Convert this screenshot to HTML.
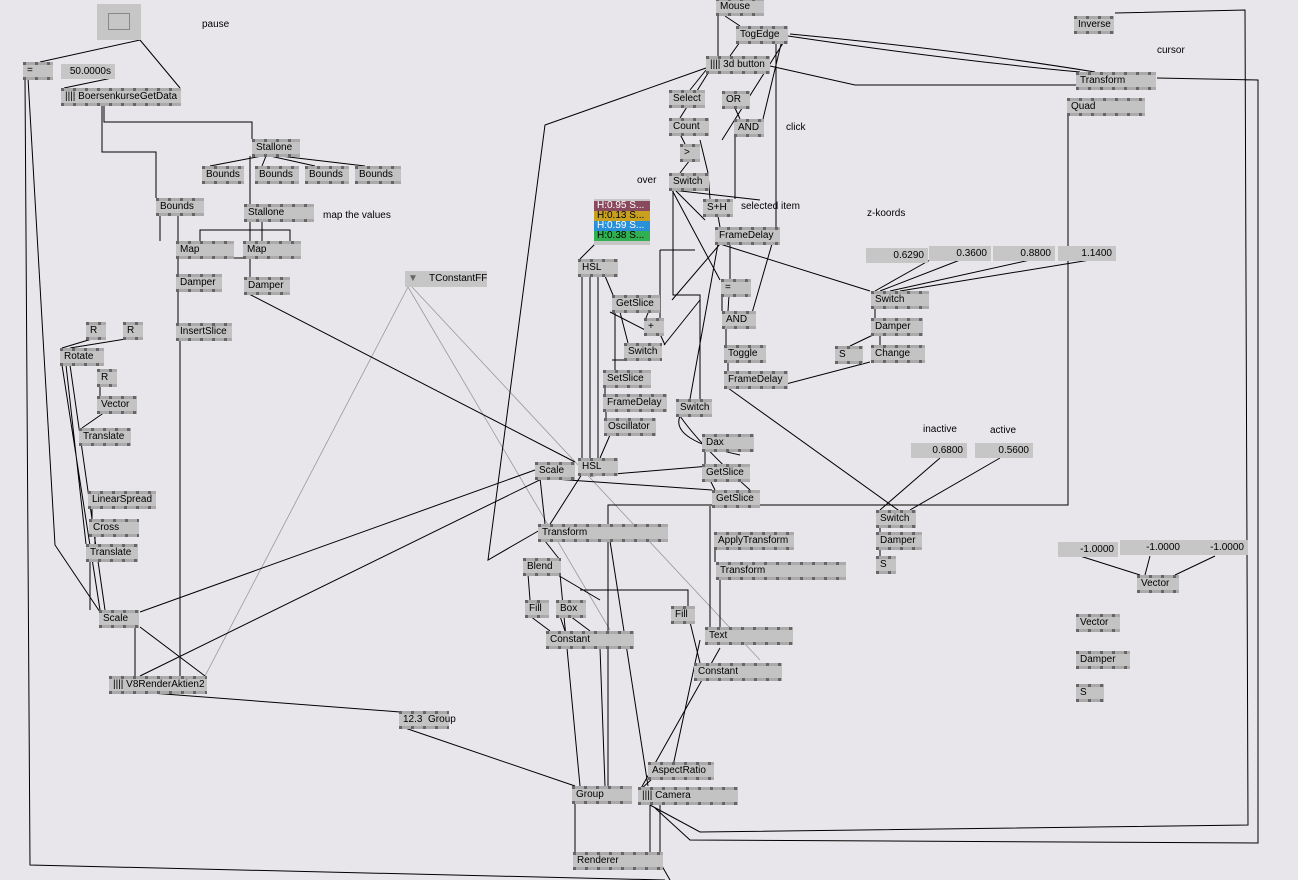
<!DOCTYPE html>
<html><head><meta charset="utf-8"><style>
body{margin:0;width:1298px;height:880px;background:#e8e6ea;position:relative;overflow:hidden;font-family:"Liberation Sans",sans-serif;font-size:10px;color:#000}
.n{position:absolute;height:18px;background:#c3c3c3;box-sizing:border-box}
.n:before,.n:after{content:"";position:absolute;left:0;right:0;height:3px;background:repeating-linear-gradient(90deg,#666 0 3px,#aaa 3px 12px)}
.n:before{top:0}.n:after{bottom:0}
.n span{position:absolute;left:4px;top:3px;line-height:12px;white-space:nowrap}
.io{position:absolute;height:15px;background:#c6c6c6;text-align:right;padding-right:4px;box-sizing:border-box;line-height:15px}
.l{position:absolute;white-space:nowrap}
svg{position:absolute;left:0;top:0}
</style></head><body>
<svg width="1298" height="880" fill="none" stroke="#000" stroke-width="1">
<g stroke="#999" stroke-width="0.8">
<path d="M408 287L205 676M408 287L610 630M412 287L760 660"/>
</g>
<path d="M140 40L40 62M140 40L180 88M112 78L64 88"/>
<path d="M25 78L30 865L665 880M28 78L55 545L100 612"/>
<path d="M102 104V152H156V198M104 104V122H252V139"/>
<path d="M262 156L210 166M266 156L262 166M270 156L315 166M280 156L365 166M250 156L250 204"/>
<path d="M160 214V241M178 214V274M186 258H245M200 241V230H290V241M262 221V241M250 221V277M178 290V323M180 340V676M247 293L575 462"/>
<path d="M95 338L62 348M132 338L70 348M100 385V396M105 412L82 428M62 365L100 610M66 365L86 544M70 365L105 610"/>
<path d="M92 507V519M95 535V544M90 560V610"/>
<path d="M140 612L535 470M140 627L205 676M135 627V676M140 676L560 470M138 692L400 712M405 728L575 786"/>
<path d="M706 68L545 125L488 560L540 530"/>
<path d="M788 36Q950 60 1080 72M790 34Q960 50 1095 72M770 66L855 85H1076M725 16L740 26M718 16V56M740 42L730 56M785 40L722 140M782 40L763 119M776 40L776 230L750 320"/>
<path d="M1115 13L1245 10L1248 825L700 832L650 805M1157 78L1258 80L1258 843L690 840L655 808"/>
<path d="M1068 115V505H608V790"/>
<path d="M706 70L690 90M710 70L680 118M735 108L740 119M680 134L685 144M690 160L680 173M700 140L708 173L710 199M735 136V199M672 190L760 200M675 190L705 220M672 190L720 280M718 216L720 227M730 244V280L728 311M720 244L672 300M718 244L690 399M720 244L870 291M722 296V311M726 328V345M728 362V371M728 388L905 515M786 384L870 362"/>
<path d="M673 190V295H700V400M680 416Q670 440 740 455M680 416Q700 445 750 490M705 450V464M710 480L715 490M710 506V627M715 548V562M720 578V627M700 640L670 780"/>
<path d="M596 243L580 259M582 276V458M590 276V458M598 276V458M605 276L613 295M615 312V370M620 312L628 343M655 335L610 312M640 360H612M605 386V394M606 410V418M610 435L600 458M582 474L540 540"/>
<path d="M660 250V320M660 250H695M655 295L646 318M660 334L665 345M700 300L664 345"/>
<path d="M540 478L545 524M545 541L560 560M560 574L580 786M556 574L600 600M528 574L530 600M530 616L550 631M560 616L565 631M570 616L590 631M580 590H688V606M540 478L712 490M590 476L710 466"/>
<path d="M600 648L605 786M610 541L648 786M690 622L700 663M720 648L640 790"/>
<path d="M653 778L640 790M575 804V852M650 804V852M660 804V852M662 866L670 880"/>
<path d="M930 260L875 291M960 260L880 291M1030 260L890 291M1090 260L900 291M875 308V318M875 334L850 346M880 334V345"/>
<path d="M940 458L880 510M1000 458L910 510M880 526V532M880 548V556"/>
<path d="M1080 556L1140 575M1150 556L1145 575M1215 556L1175 575"/>
</svg>
<div style="position:absolute;left:97px;top:4px;width:44px;height:36px;background:#c6c6c6"><div style="position:absolute;left:11px;top:9px;width:20px;height:15px;border:1px solid #888"></div></div>
<div class="l" style="left:202px;top:19px">pause</div>
<div class="l" style="left:1157px;top:45px">cursor</div>
<div class="l" style="left:786px;top:122px">click</div>
<div class="l" style="left:637px;top:175px">over</div>
<div class="l" style="left:741px;top:201px">selected item</div>
<div class="l" style="left:867px;top:208px">z-koords</div>
<div class="l" style="left:323px;top:210px">map the values</div>
<div class="l" style="left:923px;top:424px">inactive</div>
<div class="l" style="left:990px;top:425px">active</div>
<div class="l" style="left:429px;top:273px">TConstantFF</div>
<div style="position:absolute;left:405px;top:271px;width:82px;height:16px;background:#c6c6c6"></div>
<div class="l" style="left:408px;top:273px;color:#666">▼&nbsp;&nbsp;&nbsp;&nbsp;<span style="color:#000">TConstantFF</span></div>
<div style="position:absolute;left:594px;top:199px;width:56px;height:46px;background:#c6c6c6;font-size:10px;line-height:10px;color:#fff">
<div style="margin-top:2px;background:#8a4a5e;padding-left:3px">H:0.95 S...</div>
<div style="background:#c8a020;padding-left:3px;color:#000">H:0.13 S...</div>
<div style="background:#2a90d8;padding-left:3px">H:0.59 S...</div>
<div style="background:#30b050;padding-left:3px;color:#000">H:0.38 S...</div></div>
<div class="io" style="left:61px;top:64px;width:54px">50.0000s</div>
<div class="io" style="left:866px;top:248px;width:62px">0.6290</div>
<div class="io" style="left:929px;top:246px;width:62px">0.3600</div>
<div class="io" style="left:993px;top:246px;width:62px">0.8800</div>
<div class="io" style="left:1058px;top:246px;width:58px">1.1400</div>
<div class="io" style="left:911px;top:443px;width:56px">0.6800</div>
<div class="io" style="left:975px;top:443px;width:58px">0.5600</div>
<div class="io" style="left:1058px;top:542px;width:60px">-1.0000</div>
<div class="io" style="left:1120px;top:540px;width:64px">-1.0000</div>
<div class="io" style="left:1184px;top:540px;width:64px">-1.0000</div>
<div class="n" style="left:716px;top:-2px;width:48px"><span>Mouse</span></div>
<div class="n" style="left:736px;top:26px;width:52px"><span>TogEdge</span></div>
<div class="n" style="left:706px;top:56px;width:64px"><span>|||| 3d button</span></div>
<div class="n" style="left:669px;top:90px;width:36px"><span>Select</span></div>
<div class="n" style="left:722px;top:91px;width:28px"><span>OR</span></div>
<div class="n" style="left:669px;top:118px;width:40px"><span>Count</span></div>
<div class="n" style="left:734px;top:119px;width:30px"><span>AND</span></div>
<div class="n" style="left:680px;top:144px;width:20px"><span>&gt;</span></div>
<div class="n" style="left:669px;top:173px;width:40px"><span>Switch</span></div>
<div class="n" style="left:703px;top:199px;width:30px"><span>S+H</span></div>
<div class="n" style="left:715px;top:227px;width:65px"><span>FrameDelay</span></div>
<div class="n" style="left:721px;top:279px;width:30px"><span>=</span></div>
<div class="n" style="left:722px;top:311px;width:34px"><span>AND</span></div>
<div class="n" style="left:724px;top:345px;width:42px"><span>Toggle</span></div>
<div class="n" style="left:724px;top:371px;width:64px"><span>FrameDelay</span></div>
<div class="n" style="left:676px;top:399px;width:36px"><span>Switch</span></div>
<div class="n" style="left:702px;top:434px;width:52px"><span>Dax</span></div>
<div class="n" style="left:702px;top:464px;width:48px"><span>GetSlice</span></div>
<div class="n" style="left:712px;top:490px;width:48px"><span>GetSlice</span></div>
<div class="n" style="left:714px;top:532px;width:80px"><span>ApplyTransform</span></div>
<div class="n" style="left:716px;top:562px;width:130px"><span>Transform</span></div>
<div class="n" style="left:705px;top:627px;width:88px"><span>Text</span></div>
<div class="n" style="left:694px;top:663px;width:88px"><span>Constant</span></div>
<div class="n" style="left:671px;top:606px;width:24px"><span>Fill</span></div>
<div class="n" style="left:578px;top:259px;width:40px"><span>HSL</span></div>
<div class="n" style="left:612px;top:295px;width:48px"><span>GetSlice</span></div>
<div class="n" style="left:644px;top:318px;width:20px"><span>+</span></div>
<div class="n" style="left:624px;top:343px;width:38px"><span>Switch</span></div>
<div class="n" style="left:603px;top:370px;width:48px"><span>SetSlice</span></div>
<div class="n" style="left:603px;top:394px;width:64px"><span>FrameDelay</span></div>
<div class="n" style="left:604px;top:418px;width:52px"><span>Oscillator</span></div>
<div class="n" style="left:578px;top:458px;width:40px"><span>HSL</span></div>
<div class="n" style="left:535px;top:462px;width:40px"><span>Scale</span></div>
<div class="n" style="left:538px;top:524px;width:130px"><span>Transform</span></div>
<div class="n" style="left:523px;top:558px;width:38px"><span>Blend</span></div>
<div class="n" style="left:525px;top:600px;width:24px"><span>Fill</span></div>
<div class="n" style="left:556px;top:600px;width:30px"><span>Box</span></div>
<div class="n" style="left:546px;top:631px;width:88px"><span>Constant</span></div>
<div class="n" style="left:572px;top:786px;width:60px"><span>Group</span></div>
<div class="n" style="left:648px;top:762px;width:66px"><span>AspectRatio</span></div>
<div class="n" style="left:638px;top:787px;width:100px"><span>|||| Camera</span></div>
<div class="n" style="left:573px;top:852px;width:90px"><span>Renderer</span></div>
<div class="n" style="left:252px;top:139px;width:48px"><span>Stallone</span></div>
<div class="n" style="left:202px;top:166px;width:42px"><span>Bounds</span></div>
<div class="n" style="left:255px;top:166px;width:44px"><span>Bounds</span></div>
<div class="n" style="left:305px;top:166px;width:44px"><span>Bounds</span></div>
<div class="n" style="left:355px;top:166px;width:46px"><span>Bounds</span></div>
<div class="n" style="left:156px;top:198px;width:48px"><span>Bounds</span></div>
<div class="n" style="left:244px;top:204px;width:70px"><span>Stallone</span></div>
<div class="n" style="left:176px;top:241px;width:58px"><span>Map</span></div>
<div class="n" style="left:243px;top:241px;width:58px"><span>Map</span></div>
<div class="n" style="left:176px;top:274px;width:46px"><span>Damper</span></div>
<div class="n" style="left:244px;top:277px;width:46px"><span>Damper</span></div>
<div class="n" style="left:176px;top:323px;width:56px"><span>InsertSlice</span></div>
<div class="n" style="left:86px;top:322px;width:20px"><span>R</span></div>
<div class="n" style="left:123px;top:322px;width:20px"><span>R</span></div>
<div class="n" style="left:60px;top:348px;width:44px"><span>Rotate</span></div>
<div class="n" style="left:97px;top:369px;width:20px"><span>R</span></div>
<div class="n" style="left:97px;top:396px;width:40px"><span>Vector</span></div>
<div class="n" style="left:79px;top:428px;width:52px"><span>Translate</span></div>
<div class="n" style="left:88px;top:491px;width:68px"><span>LinearSpread</span></div>
<div class="n" style="left:89px;top:519px;width:50px"><span>Cross</span></div>
<div class="n" style="left:86px;top:544px;width:52px"><span>Translate</span></div>
<div class="n" style="left:99px;top:610px;width:40px"><span>Scale</span></div>
<div class="n" style="left:109px;top:676px;width:98px"><span>|||| V8RenderAktien2</span></div>
<div class="n" style="left:399px;top:711px;width:50px"><span>12.3&nbsp; Group</span></div>
<div class="n" style="left:23px;top:62px;width:30px"><span>=</span></div>
<div class="n" style="left:61px;top:88px;width:120px"><span>|||| BoersenkurseGetData</span></div>
<div class="n" style="left:1074px;top:16px;width:40px"><span>Inverse</span></div>
<div class="n" style="left:1076px;top:72px;width:80px"><span>Transform</span></div>
<div class="n" style="left:1067px;top:98px;width:78px"><span>Quad</span></div>
<div class="n" style="left:871px;top:291px;width:58px"><span>Switch</span></div>
<div class="n" style="left:871px;top:318px;width:52px"><span>Damper</span></div>
<div class="n" style="left:835px;top:346px;width:28px"><span>S</span></div>
<div class="n" style="left:871px;top:345px;width:54px"><span>Change</span></div>
<div class="n" style="left:876px;top:510px;width:40px"><span>Switch</span></div>
<div class="n" style="left:876px;top:532px;width:46px"><span>Damper</span></div>
<div class="n" style="left:876px;top:556px;width:20px"><span>S</span></div>
<div class="n" style="left:1137px;top:575px;width:42px"><span>Vector</span></div>
<div class="n" style="left:1076px;top:614px;width:44px"><span>Vector</span></div>
<div class="n" style="left:1076px;top:651px;width:54px"><span>Damper</span></div>
<div class="n" style="left:1076px;top:684px;width:28px"><span>S</span></div>
</body></html>
